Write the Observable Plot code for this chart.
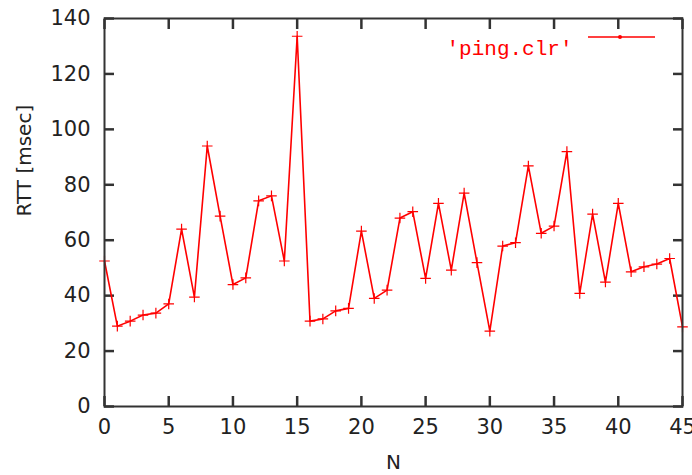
<!DOCTYPE html>
<html>
<head>
<meta charset="utf-8">
<script src="https://cdn.jsdelivr.net/npm/d3@7"></script>
<script src="https://cdn.jsdelivr.net/npm/@observablehq/plot@0.6"></script>
<style>
  html, body { margin: 0; padding: 0; background: #fff; }
  #chart svg { display: block; }
</style>
</head>
<body>
<div id="chart"></div>
<script>
// Data
const n = [0,1,2,3,4,5,6,7,8,9,10,11,12,13,14,15,16,17,18,19,20,21,22,23,24,25,26,27,28,29,30,31,32,33,34,35,36,37,38,39,40,41,42,43,44,45];
const rtt = [52.5,29,30.8,33,33.7,37,64,39.5,94,68.7,44,46.4,74.2,76,52.5,133.6,30.8,31.6,34.5,35.4,63.3,39,42,68,70.3,46.2,73.3,49.2,77,51.9,27.2,57.9,59.1,86.8,62.5,65.1,92,40.8,69.4,44.9,73.3,48.6,50.4,51.4,53.4,28.7];
const xTicks = [0,5,10,15,20,25,30,35,40,45];
const yTicks = [0,20,40,60,80,100,120,140];
const seriesName = "'ping.clr'";
const xLabel = "N";
const yLabel = "RTT [msec]";

const data = n.map((v, i) => ({n: v, rtt: rtt[i]}));

const W = 692, H = 475;
const mL = 104, mR = 10, mT = 18, mB = 69;
const tickLen = 10;
const red = "#ff0000";
const ink = "#222";
const tickInk = "#333";
const noText = () => "";

const plot = Plot.plot({
  width: W,
  height: H,
  marginLeft: mL,
  marginRight: mR,
  marginTop: mT,
  marginBottom: mB,
  style: {fontFamily: "DejaVu Sans", fontSize: "21px", color: ink, background: "#fff", overflow: "visible"},
  x: {domain: [0, 45]},
  y: {domain: [0, 140]},
  marks: [
    // tick labels
    Plot.axisX(xTicks, {tickSize: 0, tickPadding: 13, label: null, fontSize: 21, fill: ink}),
    Plot.axisY(yTicks, {tickSize: 0, tickPadding: 14, label: null, fontSize: 21, fill: ink}),
    // inward tick marks on all four sides (outer ticks shifted inside the frame)
    Plot.axisX(xTicks, {anchor: "bottom", tickSize: tickLen, dy: -tickLen, tickFormat: noText, label: null, stroke: tickInk, strokeWidth: 2.5}),
    Plot.axisX(xTicks, {anchor: "top", tickSize: tickLen, dy: tickLen, tickFormat: noText, label: null, stroke: tickInk, strokeWidth: 2.5}),
    Plot.axisY(yTicks, {anchor: "left", tickSize: tickLen, dx: tickLen, tickFormat: noText, label: null, stroke: tickInk, strokeWidth: 2.5}),
    Plot.axisY(yTicks, {anchor: "right", tickSize: tickLen, dx: -tickLen, tickFormat: noText, label: null, stroke: tickInk, strokeWidth: 2.5}),
    Plot.line(data, {x: "n", y: "rtt", stroke: red, strokeWidth: 1.6}),
    Plot.dot(data, {x: "n", y: "rtt", symbol: "plus", r: 3.5, stroke: red, strokeWidth: 1.2}),
    Plot.frame({stroke: "#333", strokeWidth: 2}),
    Plot.text([xLabel], {frameAnchor: "bottom", dy: 62, fontSize: 20, fill: ink}),
    Plot.text([yLabel], {frameAnchor: "left", rotate: -90, dx: -80, dy: 4, fontSize: 20, fill: ink}),
    Plot.text([seriesName], {frameAnchor: "top-right", dx: -110, dy: 22, textAnchor: "end",
      fill: red, fontFamily: "Liberation Mono", fontSize: 21, style: "letter-spacing:1px"})
  ]
});

// legend sample (line with point)
const svg = d3.select(plot);
const lg = svg.append("g").attr("stroke", red).attr("fill", "none");
lg.append("line").attr("x1", 588).attr("x2", 655).attr("y1", 37).attr("y2", 37).attr("stroke-width", 1.6);
lg.append("circle").attr("cx", 620).attr("cy", 37).attr("r", 2).attr("fill", red).attr("stroke", "none");

document.getElementById("chart").appendChild(plot);
</script>
</body>
</html>
